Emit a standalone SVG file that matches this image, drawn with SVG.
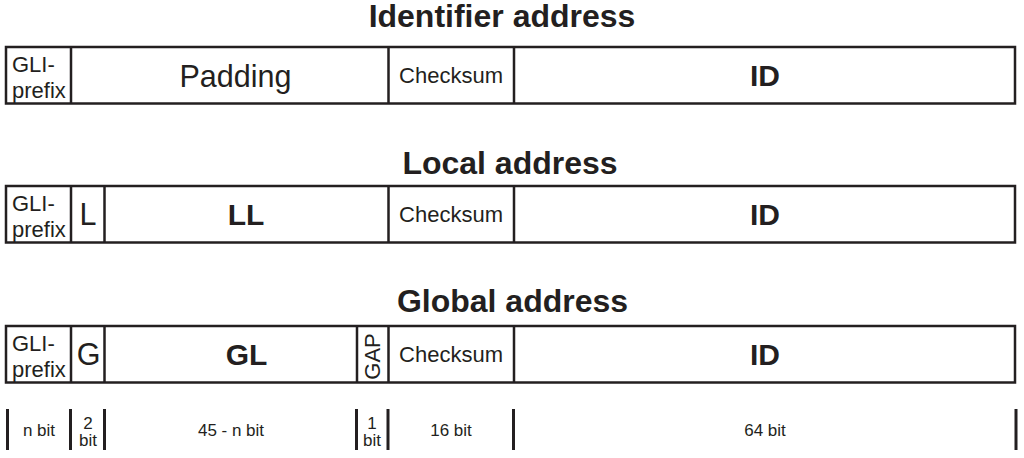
<svg xmlns="http://www.w3.org/2000/svg" width="1024" height="458" viewBox="0 0 1024 458">
<style>
text{font-family:"Liberation Sans",Arial,sans-serif;fill:#231f20}
.t{font-size:32px;font-weight:bold;text-anchor:middle}
.s{font-size:22px}
.m{font-size:22px;text-anchor:middle}
.b{font-size:30.5px;text-anchor:middle}
.bb{font-size:30px;font-weight:bold;text-anchor:middle}
.w{font-size:17px;text-anchor:middle}
.box{fill:#fff;stroke:#231f20;stroke-width:2.5}
.div{stroke:#231f20;stroke-width:2.5;fill:none}
.tick{stroke:#231f20;stroke-width:3;fill:none}
</style>
<rect width="1024" height="458" fill="#fff"/>

<g id="identifier-address">
<text class="t" x="502" y="27">Identifier address</text>
<rect class="box" x="6" y="47" width="1009" height="56.5"/>
<path class="div" d="M71,47V103.5M388.5,47V103.5M514,47V103.5"/>
<text class="s" x="12" y="72">GLI-</text>
<text class="s" x="12" y="98">prefix</text>
<text class="b" x="235.5" y="86.5">Padding</text>
<text class="m" x="451" y="83">Checksum</text>
<text class="bb" x="765" y="86">ID</text>
</g>

<g id="local-address">
<text class="t" x="510" y="174">Local address</text>
<rect class="box" x="6" y="186" width="1009" height="56.5"/>
<path class="div" d="M71,186V242.5M104.5,186V242.5M388.5,186V242.5M514,186V242.5"/>
<text class="s" x="12" y="211">GLI-</text>
<text class="s" x="12" y="237">prefix</text>
<text class="b" x="88" y="225">L</text>
<text class="bb" x="246" y="225">LL</text>
<text class="m" x="451" y="222">Checksum</text>
<text class="bb" x="765" y="225">ID</text>
</g>

<g id="global-address">
<text class="t" x="512.5" y="312">Global address</text>
<rect class="box" x="6" y="326" width="1009" height="56.5"/>
<path class="div" d="M71,326V382.5M104.5,326V382.5M357,326V382.5M388.5,326V382.5M514,326V382.5"/>
<text class="s" x="12" y="351">GLI-</text>
<text class="s" x="12" y="377">prefix</text>
<text class="b" x="88.5" y="365">G</text>
<text class="bb" x="246.5" y="365">GL</text>
<text class="m" transform="translate(380,356.5) rotate(-90)">GAP</text>
<text class="m" x="451" y="362">Checksum</text>
<text class="bb" x="765" y="365">ID</text>
</g>

<g id="bit-widths">
<path class="tick" d="M7.5,409V450M70.5,409V450M104.5,409V450M356.5,409V450M388,409V450M513.5,409V450M1016,409V450"/>
<text class="w" x="39" y="436">n bit</text>
<text class="w" x="88" y="429">2</text>
<text class="w" x="88" y="446">bit</text>
<text class="w" x="231" y="436">45 - n bit</text>
<text class="w" x="372" y="429">1</text>
<text class="w" x="372" y="446">bit</text>
<text class="w" x="451" y="436">16 bit</text>
<text class="w" x="765" y="436">64 bit</text>
</g>
</svg>
